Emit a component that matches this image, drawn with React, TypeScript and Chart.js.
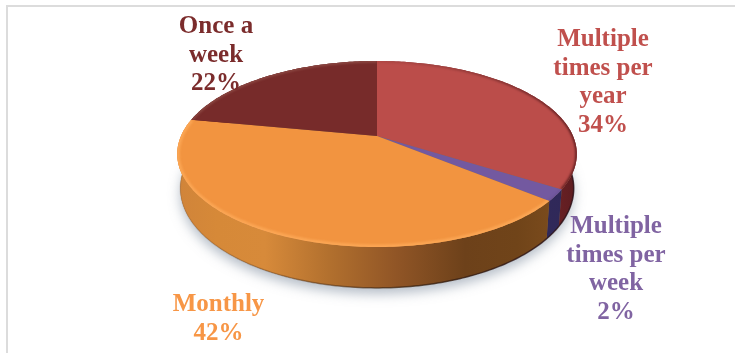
import React, { useEffect, useRef } from "react";
import { Chart, registerables, PieController, ArcElement } from "chart.js";

// Survey answers, clockwise from twelve o'clock
const categories = ["Multiple times per year", "Multiple times per week", "Monthly", "Once a week"];
const shares = [34, 2, 42, 22];
const faceColors = ["#bb4d4a", "#7359a0", "#f29440", "#772b2a"];
const labelColors = ["#c0504d", "#8064a2", "#f79646", "#7b2c2c"];
const labelLines = [
  ["Multiple", "times per", "year", "34%"],
  ["Multiple", "times per", "week", "2%"],
  ["Monthly", "42%"],
  ["Once a", "week", "22%"],
];
const labelAnchors = [
  [603, 46],
  [616, 233],
  [218.5, 311],
  [216, 33],
];

// Tilted-disc projection used for the slices and the wall below them
const APEX_X = 377;
const APEX_Y = 136;
const RADIUS = 196;
const RADIUS_FOOT = 193;
const TILT_Y = 63.2;
const TILT_W = -0.1935;
const DEPTH = 33;

function project(angle: number, radiusScale: number, radius: number, drop: number) {
  const u = Math.cos(angle) * radiusScale;
  const v = Math.sin(angle) * radiusScale;
  const w = 1 + TILT_W * v;
  return { x: APEX_X + (radius * u) / w, y: (APEX_Y + TILT_Y * v + drop) / w };
}

function traceRim(ctx: CanvasRenderingContext2D, a0: number, a1: number, radius: number, drop: number, move: boolean) {
  const steps = Math.max(4, Math.ceil(Math.abs(a1 - a0) * 60));
  for (let i = 0; i <= steps; i++) {
    const p = project(a0 + ((a1 - a0) * i) / steps, 1, radius, drop);
    if (i === 0 && move) ctx.moveTo(p.x, p.y);
    else ctx.lineTo(p.x, p.y);
  }
}

class PerspectiveArc extends ArcElement {
  static id = "perspectiveArc";

  draw(ctx: CanvasRenderingContext2D) {
    const { startAngle, endAngle } = this as any;
    const opts = (this as any).options;
    const apex = project(0, 0, RADIUS, 0);
    ctx.save();
    ctx.beginPath();
    ctx.moveTo(apex.x, apex.y);
    traceRim(ctx, startAngle, endAngle, RADIUS, 0, false);
    ctx.closePath();
    ctx.fillStyle = opts.backgroundColor;
    ctx.fill();
    ctx.clip();

    // Soft bevel along the outer edge of the slice
    const color = opts.backgroundColor;
    const rim = ctx.createLinearGradient(APEX_X, 0, APEX_X + RADIUS, 0);
    if (color === faceColors[0]) {
      rim.addColorStop(0, "rgba(150,60,58,0.35)");
      rim.addColorStop(0.6, "rgba(120,45,45,0.8)");
      rim.addColorStop(1, "rgba(95,30,32,1)");
    } else if (color === faceColors[2]) {
      rim.addColorStop(0, "#fba654");
      rim.addColorStop(1, "#fba654");
    } else if (color === faceColors[1]) {
      rim.addColorStop(0, "#6a5296");
      rim.addColorStop(1, "#6a5296");
    } else {
      rim.addColorStop(0, "#8d4a44");
      rim.addColorStop(1, "#8d4a44");
    }
    ctx.filter = "blur(1.2px)";
    ctx.beginPath();
    traceRim(ctx, startAngle, endAngle, RADIUS, 0, true);
    ctx.strokeStyle = rim;
    ctx.lineWidth = color === faceColors[2] ? 5 : 3;
    ctx.stroke();
    ctx.restore();
  }
}

class PerspectivePie extends PieController {
  static id = "perspectivePie";
  static defaults = { dataElementType: "perspectiveArc" };
}

Chart.register(...registerables, PerspectiveArc as any, PerspectivePie as any);

function wallFill(ctx: CanvasRenderingContext2D, index: number) {
  const g = ctx.createLinearGradient(APEX_X - 200, 0, APEX_X + 200, 0);
  const stops: [number, string][][] = [
    [[0, "#7f2a2a"], [0.88, "#7c2729"], [1, "#5c1c20"]],
    [[0, "#40356c"], [1, "#2f2858"]],
    [
      [0, "#d0843a"],
      [0.1, "#d68938"],
      [0.22, "#d78a3a"],
      [0.38, "#b2702e"],
      [0.55, "#905526"],
      [0.72, "#6d411a"],
      [0.85, "#704419"],
      [0.95, "#7c4c1d"],
      [1, "#7c4c1d"],
    ],
    [[0, "#5d1f1f"], [1, "#5d1f1f"]],
  ];
  for (const [at, c] of stops[index]) g.addColorStop(at, c);
  return g;
}

const wallPlugin = {
  id: "discWall",
  beforeDatasetsDraw(chart: Chart) {
    const ctx = chart.ctx;
    const arcs = chart.getDatasetMeta(0).data as any[];

    // Grey cast shadow under the disc
    ctx.save();
    ctx.shadowColor = "rgba(110,125,145,0.5)";
    ctx.shadowBlur = 12;
    ctx.shadowOffsetY = 6;
    ctx.fillStyle = "#8a6a4a";
    ctx.beginPath();
    traceRim(ctx, 0, Math.PI * 2, RADIUS_FOOT, DEPTH, true);
    ctx.closePath();
    ctx.fill();
    ctx.restore();

    arcs.forEach((arc, i) => {
      ctx.save();
      ctx.beginPath();
      traceRim(ctx, arc.startAngle, arc.endAngle, RADIUS, 0, true);
      traceRim(ctx, arc.endAngle, arc.startAngle, RADIUS_FOOT, DEPTH, false);
      ctx.closePath();
      ctx.fillStyle = wallFill(ctx, i);
      ctx.fill();
      ctx.restore();
    });

    // Lower edge of the wall, faint on the lit side and dark on the other
    const edge = ctx.createLinearGradient(APEX_X - 200, 0, APEX_X + 200, 0);
    edge.addColorStop(0, "rgba(120,75,35,0.15)");
    edge.addColorStop(0.3, "rgba(90,55,25,0.45)");
    edge.addColorStop(0.6, "rgba(50,30,15,0.7)");
    edge.addColorStop(1, "rgba(40,15,25,0.8)");
    ctx.save();
    ctx.filter = "blur(0.7px)";
    ctx.beginPath();
    traceRim(ctx, 0, Math.PI, RADIUS_FOOT, DEPTH, true);
    ctx.strokeStyle = edge;
    ctx.lineWidth = 1.5;
    ctx.stroke();
    ctx.restore();
  },
};

const labelPlugin = {
  id: "sliceLabels",
  beforeDraw(chart: Chart) {
    // Thin frame along the top and left of the panel
    const ctx = chart.ctx;
    ctx.save();
    ctx.fillStyle = "#ffffff";
    ctx.fillRect(0, 0, chart.width, chart.height);
    ctx.fillStyle = "#dcdcdc";
    ctx.fillRect(6, 5, chart.width - 6, 2);
    ctx.fillRect(6, 5, 2, chart.height - 5);
    ctx.restore();
  },
  afterDatasetsDraw(chart: Chart) {
    const ctx = chart.ctx;
    ctx.save();
    ctx.font = 'bold 25px "Liberation Serif"';
    ctx.textAlign = "center";
    ctx.textBaseline = "alphabetic";
    labelLines.forEach((lines, i) => {
      ctx.fillStyle = labelColors[i];
      lines.forEach((line, k) => {
        ctx.fillText(line, labelAnchors[i][0], labelAnchors[i][1] + k * 28.7);
      });
    });
    ctx.restore();
  },
};

export default function App() {
  const canvasRef = useRef<HTMLCanvasElement>(null);

  useEffect(() => {
    const chart = new Chart(canvasRef.current!, {
      type: "perspectivePie" as any,
      data: {
        labels: categories,
        datasets: [{ data: shares, backgroundColor: faceColors, borderWidth: 0 }],
      },
      options: {
        responsive: false,
        animation: false,
        events: [],
        plugins: { legend: { display: false }, tooltip: { enabled: false } },
      } as any,
      plugins: [wallPlugin, labelPlugin],
    });
    return () => chart.destroy();
  }, []);

  return (
    <div style={{ position: "absolute", left: 0, top: 0, width: 735, height: 353 }}>
      <canvas ref={canvasRef} width={735} height={353} style={{ display: "block" }} />
    </div>
  );
}
